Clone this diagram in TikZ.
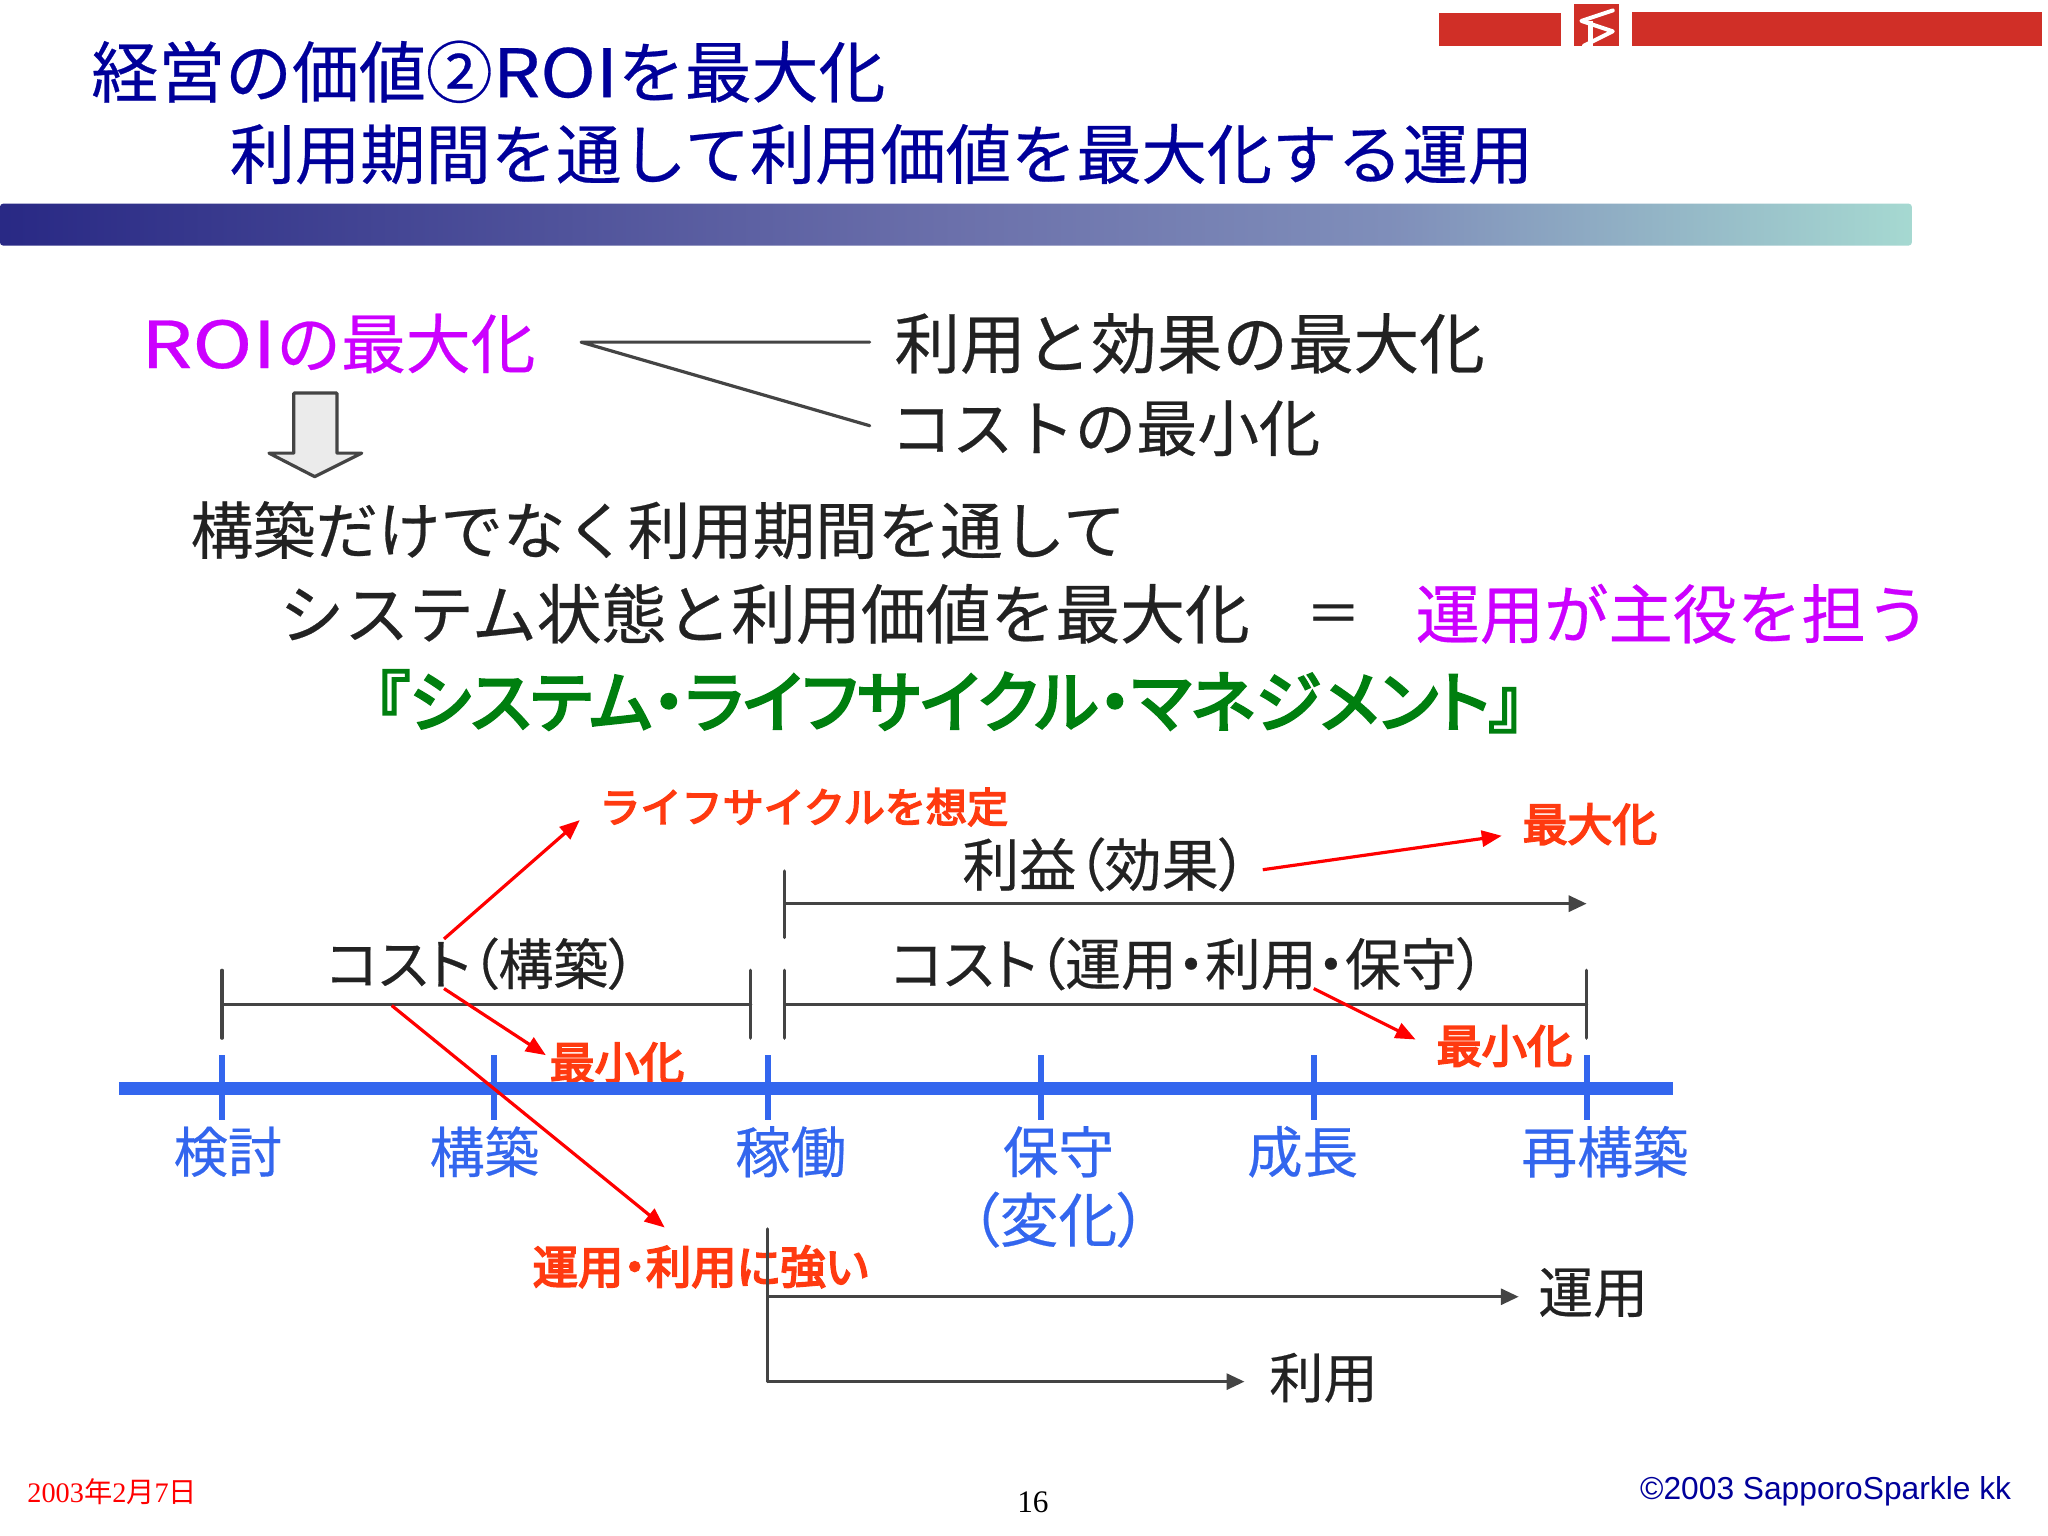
\documentclass[tikz,border=0pt]{standalone}
\usepackage{fontspec}
\usepackage{graphicx}
\usetikzlibrary{arrows.meta}
\setmainfont{Noto Sans CJK JP}[FakeBold=0.4]
\newfontfamily\heavy{Noto Sans CJK JP}[FakeBold=4]
\newfontfamily\tight{Noto Sans CJK JP}[FakeBold=0.4,RawFeature=+palt]
\newfontfamily\heavytight{Noto Sans CJK JP}[FakeBold=4,RawFeature=+palt]
\newfontfamily\serifjp{Liberation Serif}
\newfontfamily\plainjp{Noto Sans CJK JP}
\newfontfamily\sansla{Liberation Sans}
\definecolor{navy}{HTML}{00009A}
\definecolor{ink}{HTML}{222222}
\definecolor{grayline}{HTML}{444444}
\definecolor{magen}{HTML}{CC00FF}
\definecolor{greenT}{HTML}{007F0F}
\definecolor{orangeR}{HTML}{FF3A10}
\definecolor{blueT}{HTML}{3366EE}
\definecolor{redbar}{HTML}{D02F27}
\pgfdeclarehorizontalshading{bandshade}{100bp}{rgb(0bp)=(0.16,0.16,0.52);rgb(25bp)=(0.16,0.16,0.52);rgb(50bp)=(0.42,0.44,0.67);rgb(61.5bp)=(0.50,0.56,0.73);rgb(75bp)=(0.65,0.85,0.82);rgb(100bp)=(0.65,0.85,0.82)}
\newcommand\txt[6]{%
  \pgfmathsetmacro\tC{(#2+#3)/2}%
  \pgfmathsetlengthmacro\tW{(#3-#2)*0.653pt}%
  \node[tx,#5] (#1) at (\tC,#4) {\resizebox{\tW}{!}{\vphantom{国}#6}};}
\tikzset{
  tx/.style={inner sep=0pt,outer sep=0pt},
  glin/.style={draw=grayline,line width=1.6pt,line cap=round},
  garrow/.style={draw=grayline,line width=1.6pt,-{Triangle[length=9pt,width=8pt]}},
  rarrow/.style={draw=red,line width=1.6pt,-{Triangle[length=10pt,width=8pt]}},
  tick/.style={draw=blueT,line width=3pt},
}
\begin{document}
\begin{tikzpicture}[x=0.653pt,y=-0.653pt]
\useasboundingbox (0,0) rectangle (1568.3,1176);
% top bars
\fill[redbar] (1102,10) rectangle (1195,35);
\fill[redbar] (1205,3) rectangle (1240,35);
\fill[redbar] (1250,9) rectangle (1564,35);
\draw[white,line width=2pt,line cap=round,line join=round] (1235,8) -- (1211,16) -- (1235,24) -- (1213,35);
\draw[white,line width=2.4pt] (1218,16) -- (1218,35);
% gradient band
\shade[shading=bandshade,rounded corners=1.5pt] (0,156) rectangle (1464,188);
% title
\txt{t1}{70}{678}{55}{text=navy}{経営の価値②\scalebox{1.12}[1]{ROI}を最大化}
\txt{t2}{176}{1174}{118}{text=navy}{利用期間を通して利用価値を最大化する運用}
% upper text
\txt{roi}{108}{410}{263}{text=magen}{\scalebox{1.25}[1]{ROI}の最大化}
\txt{a1}{685}{1137}{263}{text=ink}{利用と効果の最大化}
\txt{a2}{682}{1011}{328}{text=ink}{コストの最小化}
\coordinate (fork) at (445,262);
\coordinate (fa) at (666,262);
\coordinate (fb) at (666,326);
\draw[glin,line join=round] (fa) -- (fork) -- (fb);
% block arrow
\draw[draw=grayline,line width=1.6pt,fill=black!8,line join=round]
  (225,301) -- (258,301) -- (258,347) -- (277,347) -- (241,365) -- (206,347) -- (225,347) -- cycle;
\txt{b1}{146}{862}{406}{text=ink}{構築だけでなく利用期間を通して}
\txt{b2}{214}{957}{470}{text=ink}{システム状態と利用価値を最大化}
\txt{eq}{1000}{1042}{470}{text=ink}{＝}
\txt{b3}{1084}{1478}{470}{text=magen}{運用が主役を担う}
\txt{b4}{288}{1166}{537}{text=greenT,font=\heavytight}{『システム・ライフサイクル・マネジメント』}
% red labels
\txt{r1}{459}{772}{618}{text=orangeR,font=\heavy}{ライフサイクルを想定}
\txt{r2}{1166}{1269}{631}{text=orangeR,font=\heavy}{最大化}
\txt{r3}{421}{524}{814}{text=orangeR,font=\heavy}{最小化}
\txt{r4}{1100}{1204}{801}{text=orangeR,font=\heavy}{最小化}
% black labels
\txt{c0}{737}{955}{662}{text=ink,font=\tight}{利益（効果）}
\txt{c1}{250}{487}{738}{text=ink,font=\tight}{コスト（構築）}
\txt{c2}{682}{1137}{738}{text=ink,font=\tight}{コスト（運用・利用・保守）}
% brackets
\coordinate (k1t) at (170,743); \coordinate (k1b) at (170,795);
\coordinate (k2t) at (575,743); \coordinate (k2b) at (575,795);
\coordinate (k3t) at (601,743); \coordinate (k3b) at (601,795);
\coordinate (k4t) at (1215,743); \coordinate (k4b) at (1215,795);
\coordinate (k1m) at (170,769); \coordinate (k2m) at (575,769);
\coordinate (k3m) at (601,769); \coordinate (k4m) at (1215,769);
\draw[glin] (k1t) -- (k1b); \draw[glin] (k2t) -- (k2b);
\draw[glin] (k3t) -- (k3b); \draw[glin] (k4t) -- (k4b);
\draw[glin] (k1m) -- (k2m); \draw[glin] (k3m) -- (k4m);
\coordinate (p1t) at (601,667); \coordinate (p1b) at (601,718);
\coordinate (p1m) at (601,692); \coordinate (p2m) at (1215,692);
\draw[glin] (p1t) -- (p1b);
\draw[garrow] (p1m) -- (p2m);
% timeline
\coordinate (tl) at (91,833.5); \coordinate (tr) at (1281,833.5);
\draw[draw=blueT,line width=6.6pt] (tl) -- (tr);
\foreach \n/\x in {a/170,b/378,c/588,d/797,e/1006,f/1215}{
  \coordinate (t\n u) at (\x,808); \coordinate (t\n d) at (\x,858);
  \draw[tick] (t\n u) -- (t\n d);
}
% blue labels
\txt{l1}{133}{216}{882}{text=blueT}{検討}
\txt{l2}{329}{413}{882}{text=blueT}{構築}
\txt{l3}{563}{648}{882}{text=blueT}{稼働}
\txt{l4}{768}{853}{882}{text=blueT}{保守}
\txt{l4b}{743}{878}{934}{text=blueT,font=\tight}{（変化）}
\txt{l5}{955}{1040}{882}{text=blueT}{成長}
\txt{l6}{1165}{1293}{882}{text=blueT}{再構築}
% lower section
\txt{r5}{408}{665}{970}{text=orangeR,font=\heavytight}{運用・利用に強い}
\txt{u1}{1178}{1262}{990}{text=ink}{運用}
\txt{u2}{972}{1055}{1055}{text=ink}{利用}
\coordinate (s0) at (588,941); \coordinate (s1) at (588,993); \coordinate (s2) at (588,1058);
\coordinate (s1e) at (1163,993); \coordinate (s2e) at (953,1058);
\draw[glin] (s0) -- (s2);
\draw[garrow] (s1) -- (s1e);
\draw[garrow] (s2) -- (s2e);
% red arrows
\coordinate (ra0) at (340,719); \coordinate (ra1) at (444,628);
\coordinate (rb0) at (340,757); \coordinate (rb1) at (418,808);
\coordinate (rc0) at (300,770); \coordinate (rc1) at (509,940);
\coordinate (rd0) at (967,666); \coordinate (rd1) at (1150,640);
\coordinate (re0) at (1006,757); \coordinate (re1) at (1084,796);
\draw[rarrow] (ra0) -- (ra1);
\draw[rarrow] (rb0) -- (rb1);
\draw[rarrow] (rc0) -- (rc1);
\draw[rarrow] (rd0) -- (rd1);
\draw[rarrow] (re0) -- (re1);
% footer
\txt{f1}{21}{151}{1142}{text=red}{\serifjp 2003{\plainjp 年}2{\plainjp 月}7{\plainjp 日}}
\txt{f2}{779}{803}{1150}{text=black}{\serifjp 16}
\txt{f3}{1256}{1540}{1141}{text=navy}{\sansla ©2003 SapporoSparkle kk}
\end{tikzpicture}
\end{document}
